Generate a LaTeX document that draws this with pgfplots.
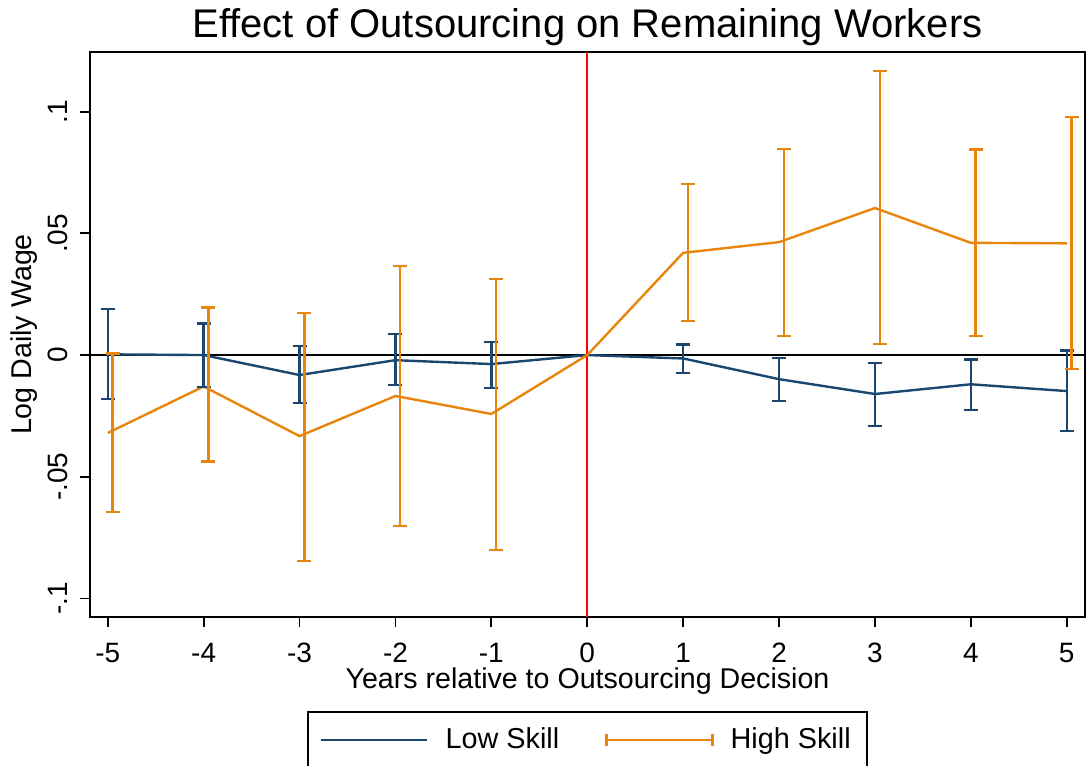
\documentclass[border=0pt]{standalone}
\usepackage{fontspec}
\setmainfont{Liberation Sans}
\usepackage{pgfplots}
\usepackage{pgfplotstable}
\pgfplotsset{compat=1.18}
\definecolor{lowc}{RGB}{26,71,111}
\definecolor{highc}{RGB}{233,133,12}

\pgfplotstableread{
x y lo hi
-5 0.0003 -0.0181 0.0188
-4 0.0000 -0.0131 0.0129
-3 -0.0082 -0.0197 0.0037
-2 -0.0021 -0.0123 0.0086
-1 -0.0037 -0.0136 0.0053
0 0 0 0
1 -0.0014 -0.0073 0.0044
2 -0.0099 -0.0189 -0.0012
3 -0.0160 -0.0292 -0.0033
4 -0.0120 -0.0225 -0.0018
5 -0.0148 -0.0312 0.0018
}\lowtab

\pgfplotstableread{
x y lo hi
-5 -0.0320 -0.0645 0.0007
-4 -0.0129 -0.0438 0.0196
-3 -0.0333 -0.0846 0.0173
-2 -0.0168 -0.0703 0.0366
-1 -0.0242 -0.0801 0.0312
0 0 0 0
1 0.0420 0.0140 0.0703
2 0.0464 0.0078 0.0846
3 0.0604 0.0045 0.1167
4 0.0461 0.0078 0.0845
5 0.0459 -0.0058 0.0977
}\hightab

\begin{document}
\begin{tikzpicture}
\begin{axis}[
  scale only axis, width=497.5pt, height=282.5pt,
  xmin=-5.185, xmax=5.19, ymin=-0.1076, ymax=0.1245,
  xtick={-5,-4,-3,-2,-1,0,1,2,3,4,5},
  xticklabels={-5,-4,-3,-2,-1,0,1,2,3,4,5},
  ytick={-0.1,-0.05,0,0.05,0.1},
  yticklabels={-.1,-.05,0,.05,.1},
  tick pos=left, tick align=outside, major tick length=5pt,
  tick style={black, line width=0.9pt},
  axis line style={black, line width=0.9pt},
  ticklabel style={font=\fontsize{14}{16}\selectfont},
  xticklabel shift=4.5pt,
  yticklabel shift=2.5pt,
  yticklabel style={rotate=90, anchor=south},
  xlabel={Years relative to Outsourcing Decision},
  ylabel={Log Daily Wage},
  label style={font=\fontsize{14.3}{16}\selectfont},
  xlabel style={at={(axis description cs:0.5,-0.1257)}, anchor=base},
  ylabel style={at={(axis description cs:-0.0583,0.5)}, anchor=base, rotate=0},
  legend columns=2,
  legend style={at={(axis description cs:0.5,0)}, anchor=north, yshift=-47pt,
    draw=black, line width=0.9pt, font=\fontsize{14.4}{16}\selectfont,
    inner xsep=6pt, inner ysep=6pt, cells={anchor=west},
    /tikz/every odd column/.append style={column sep=6.5pt},
    /tikz/every even column/.append style={column sep=21pt}},
  legend image code/.code={\draw[#1, line width=1.2pt] (0pt,0pt) -- (53pt,0pt);},
  clip=false,
]
\coordinate (sw) at (rel axis cs:0,0);
\coordinate (ne) at (rel axis cs:1,1);
\node[anchor=base, font=\fontsize{20}{23}\selectfont] at (rel axis cs:0.5,1.0255) {Effect of Outsourcing on Remaining Workers};
\addplot[forget plot, black, line width=1pt] coordinates {(-5.185,0) (5.19,0)};
\addplot[forget plot, red, line width=1pt] coordinates {(0,-0.1076) (0,0.1245)};

\addplot[lowc, line width=1.2pt, mark=none] table[x=x, y=y] {\lowtab};
\addlegendentry{Low Skill}
\addplot[highc, line width=1.2pt, mark=none,
  legend image code/.code={\draw[highc, line width=1.2pt] (0pt,0pt) -- (53pt,0pt) (0pt,-3pt) -- (0pt,3pt) (53pt,-3pt) -- (53pt,3pt);}]
  table[x=x, y=y] {\hightab};
\addlegendentry{High Skill}

\addplot[forget plot, draw=none, mark=none,
  error bars/.cd, y dir=both, y explicit,
  error bar style={draw=lowc, line width=1.2pt},
  error mark options={draw=lowc, line width=1.2pt, mark size=3.5pt, rotate=90}]
  table[x=x, y=y, y error plus expr=\thisrow{hi}-\thisrow{y}, y error minus expr=\thisrow{y}-\thisrow{lo},
        skip coords between index={5}{6}] {\lowtab};
\addplot[forget plot, draw=none, mark=none,
  error bars/.cd, y dir=both, y explicit,
  error bar style={draw=highc, line width=1.2pt},
  error mark options={draw=highc, line width=1.2pt, mark size=3.5pt, rotate=90}]
  table[x expr=\thisrow{x}+0.05, y=y, y error plus expr=\thisrow{hi}-\thisrow{y}, y error minus expr=\thisrow{y}-\thisrow{lo},
        skip coords between index={5}{6}] {\hightab};
\end{axis}
\pgfresetboundingbox
\path[use as bounding box] ([xshift=-45pt,yshift=-74.5pt]sw) rectangle ([xshift=0.5pt,yshift=26pt]ne);
\end{tikzpicture}
\end{document}
